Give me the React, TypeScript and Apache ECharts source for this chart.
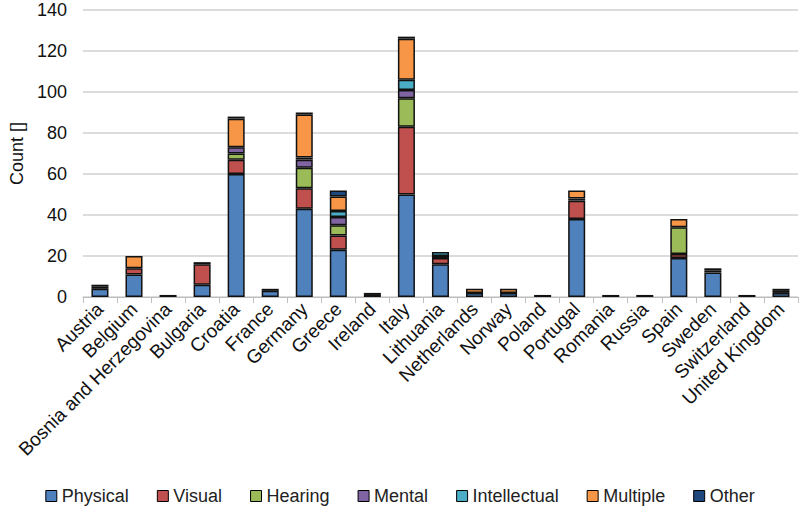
import React, { useEffect, useRef } from "react";
import * as echarts from "echarts";

const countries = [
  "Austria", "Belgium", "Bosnia and Herzegovina", "Bulgaria", "Croatia", "France",
  "Germany", "Greece", "Ireland", "Italy", "Lithuania", "Netherlands", "Norway",
  "Poland", "Portugal", "Romania", "Russia", "Spain", "Sweden", "Switzerland",
  "United Kingdom",
];

const physical =     [4, 11, 0, 6, 60, 3, 43, 23, 1, 50, 16, 2, 2, 1, 38, 1, 1, 19, 12, 1, 2];
const visual =       [0, 3, 0, 10, 7, 0, 10, 7, 0, 33, 3, 0, 0, 0, 9, 0, 0, 2, 0, 0, 0];
const hearing =      [0, 0, 0, 0, 3, 0, 10, 5, 0, 14, 0, 0, 0, 0, 0, 0, 0, 13, 0, 0, 0];
const mental =       [0, 0, 0, 0, 3, 0, 4, 4, 0, 4, 1, 0, 0, 0, 0, 0, 0, 0, 0, 0, 0];
const intellectual = [0, 0, 0, 0, 0, 0, 1, 3, 0, 5, 2, 0, 0, 0, 1, 0, 0, 0, 0, 0, 0];
const multiple =     [1, 6, 1, 1, 14, 0, 21, 7, 0, 20, 0, 2, 2, 0, 4, 0, 0, 4, 1, 0, 1];
const other =        [1, 0, 0, 0, 1, 1, 1, 3, 1, 1, 0, 0, 0, 0, 0, 0, 0, 0, 1, 0, 1];

const seriesNames = ["Physical", "Visual", "Hearing", "Mental", "Intellectual", "Multiple", "Other"];
const seriesData = [physical, visual, hearing, mental, intellectual, multiple, other];
const seriesColors = ["#4F81BD", "#C0504D", "#9BBB59", "#8064A2", "#4BACC6", "#F79646", "#1F497D"];

const yTicks = { min: 0, max: 140, interval: 20 };

export default function App() {
  const ref = useRef<HTMLDivElement>(null);
  useEffect(() => {
    if (!ref.current) return;
    const chart = echarts.init(ref.current, undefined, { renderer: "svg" });
    const font = "'Liberation Sans', Arial, sans-serif";
    chart.setOption({
      animation: false,
      textStyle: { fontFamily: font },
      grid: { left: 73, right: 2, top: 10, bottom: 217, containLabel: false },
      legend: {
        bottom: 4,
        left: "center",
        itemWidth: 11,
        itemHeight: 11,
        itemGap: 28,
        icon: "rect",
        textStyle: { fontSize: 18, color: "#222", fontFamily: font },
        itemStyle: { borderColor: "#000", borderWidth: 1 },
        data: seriesNames,
      },
      xAxis: {
        type: "category",
        data: countries,
        boundaryGap: true,
        axisLine: { lineStyle: { color: "#bfbfbf", width: 1 } },
        axisTick: { show: true, length: 6, lineStyle: { color: "#bfbfbf" } },
        axisLabel: {
          rotate: 45,
          fontSize: 19,
          color: "#111",
          interval: 0,
          margin: 9,
          fontFamily: font,
        },
      },
      yAxis: {
        type: "value",
        min: yTicks.min,
        max: yTicks.max,
        interval: yTicks.interval,
        name: "Count []",
        nameLocation: "middle",
        nameGap: 56,
        nameTextStyle: { fontSize: 18, color: "#111", fontFamily: font },
        axisLine: { show: false },
        axisTick: { show: false },
        axisLabel: { fontSize: 18, color: "#111", margin: 16, fontFamily: font },
        splitLine: { lineStyle: { color: "#d0d0d0", width: 1.5 } },
      },
      series: seriesNames.map((name, i) => ({
        name,
        type: "bar",
        stack: "total",
        barWidth: "50%",
        data: seriesData[i].map((v) => (v === 0 ? "-" : v)),
        itemStyle: { color: seriesColors[i], borderColor: "#111", borderWidth: 1.5 },
      })),
    });
    return () => chart.dispose();
  }, []);
  return (
    <div
      ref={ref}
      style={{ position: "absolute", left: 0, top: 0, width: 800, height: 514 }}
    />
  );
}
